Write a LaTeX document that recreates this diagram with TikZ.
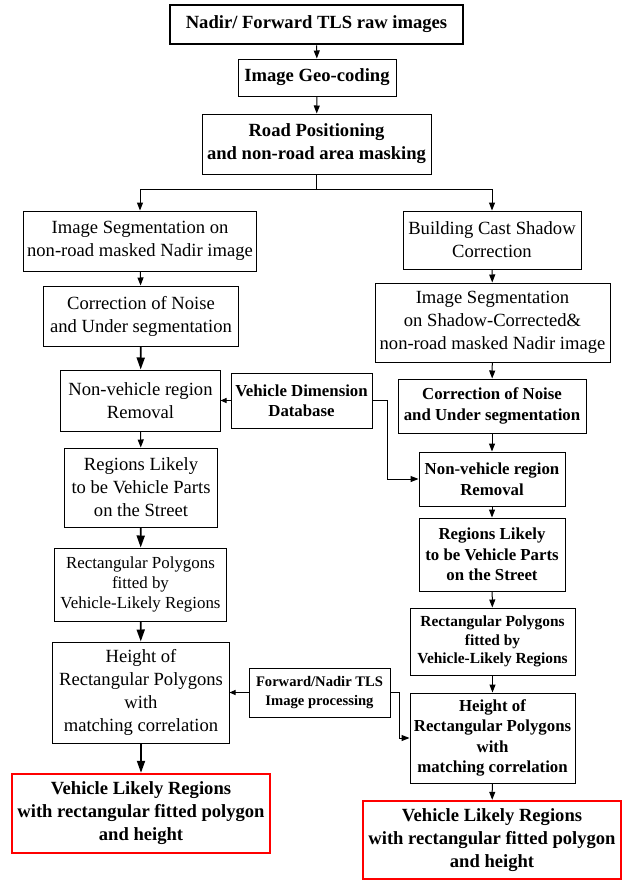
\documentclass[tikz,border=0pt]{standalone}
\usepackage{fontspec}
\setmainfont{Liberation Serif}
\usetikzlibrary{arrows.meta,positioning,calc}

\tikzset{
  box/.style={draw, line width=1bp, inner sep=0pt, align=center},
  topbox/.style={box, line width=2.6bp},
  redbox/.style={box, draw=red, line width=2.4bp},
  regtext/.style={font=\fontsize{18.6bp}{23bp}\selectfont},
  boldtext/.style={font=\fontsize{18.6bp}{23bp}\selectfont\bfseries},
  midbold/.style={font=\fontsize{16.8bp}{20.5bp}\selectfont\bfseries},
  smallbold/.style={font=\fontsize{15.4bp}{18.7bp}\selectfont\bfseries},
  smallreg/.style={font=\fontsize{16.9bp}{20bp}\selectfont},
  tinybold/.style={font=\fontsize{14.6bp}{19bp}\selectfont\bfseries},
  arr/.style={line width=1bp, -{Triangle[length=8bp,width=6bp]}},
  bigarr/.style={line width=1.8bp, -{Triangle[length=12bp,width=8bp]}},
}

\begin{document}
\begin{tikzpicture}[x=1bp, y=-1bp]
  \useasboundingbox (0,0) rectangle (625,880);

  % common trunk
  \node[topbox, boldtext, minimum width=293bp, minimum height=39bp] (raw) at (316.5,24.5) {Nadir/ Forward TLS raw images};
  \node[box, boldtext, minimum width=158bp, minimum height=37bp] (geo) at (317,77.5) {Image Geo-coding};
  \node[box, boldtext, minimum width=229bp, minimum height=60bp] (road) at (316.5,144) {Road Positioning\\and non-road area masking};
  \coordinate (split) at (316.5,189);

  % left branch (no shadow correction)
  \node[box, regtext, minimum width=232bp, minimum height=60bp] (segL) at (140,241) {Image Segmentation on\\non-road masked Nadir image};
  \node[box, regtext, minimum width=194bp, minimum height=60bp] (noiseL) at (141,316) {Correction of Noise\\and Under segmentation};
  \node[box, regtext, minimum width=159bp, minimum height=61bp] (nonvL) at (140.5,400.5) {Non-vehicle region\\Removal};
  \node[box, regtext, minimum width=152bp, minimum height=79bp] (partsL) at (141,487.5) {Regions Likely\\to be Vehicle Parts\\on the Street};
  \node[box, smallreg, minimum width=171bp, minimum height=73bp] (polyL) at (140.5,584.5) {Rectangular Polygons\\fitted by\\Vehicle-Likely Regions};
  \node[box, regtext, minimum width=176bp, minimum height=101bp] (heightL) at (141,692.5) {Height of\\Rectangular Polygons\\with\\matching correlation};
  \node[redbox, boldtext, minimum width=258bp, minimum height=79bp] (resL) at (141,813.5) {Vehicle Likely Regions\\with rectangular fitted polygon\\and height};

  % shared inputs
  \node[box, midbold, minimum width=141bp, minimum height=55bp] (dim) at (301.5,400.5) {Vehicle Dimension\\Database};
  \node[box, tinybold, minimum width=141bp, minimum height=49bp] (tls) at (319.5,692.5) {Forward/Nadir TLS\\Image processing};

  % right branch (with shadow correction)
  \node[box, regtext, minimum width=178bp, minimum height=58bp] (shadR) at (492,240) {Building Cast Shadow\\Correction};
  \node[box, regtext, minimum width=235bp, minimum height=79bp] (segR) at (492.5,322.5) {Image Segmentation\\on Shadow-Corrected\&\\non-road masked Nadir image};
  \node[box, midbold, minimum width=188bp, minimum height=54bp] (noiseR) at (492,406) {Correction of Noise\\and Under segmentation};
  \node[box, midbold, minimum width=146bp, minimum height=54bp] (nonvR) at (492,479) {Non-vehicle region\\Removal};
  \node[box, midbold, minimum width=146bp, minimum height=73bp] (partsR) at (492,554.5) {Regions Likely\\to be Vehicle Parts\\on the Street};
  \node[box, smallbold, minimum width=165bp, minimum height=67bp] (polyR) at (492.5,641.5) {Rectangular Polygons\\fitted by\\Vehicle-Likely Regions};
  \node[box, midbold, minimum width=165bp, minimum height=90bp] (heightR) at (492.5,738) {Height of\\Rectangular Polygons\\with\\matching correlation};
  \node[redbox, boldtext, minimum width=258bp, minimum height=78bp] (resR) at (492,840) {Vehicle Likely Regions\\with rectangular fitted polygon\\and height};

  % connectors
  \draw[arr] (raw) -- (geo);
  \draw[arr] (geo) -- (road);
  \draw[line width=1bp] (road) -- (split);
  \draw[arr] (split) -| (segL);
  \draw[arr] (split) -| (shadR);

  \draw[arr] (segL) -- (noiseL);
  \draw[bigarr] (noiseL) -- (nonvL);
  \draw[arr] (nonvL) -- (partsL);
  \draw[bigarr] (partsL) -- (polyL);
  \draw[bigarr] (polyL) -- (heightL);
  \draw[bigarr] (heightL) -- (resL);

  \draw[arr] (shadR) -- (segR);
  \draw[arr] (segR) -- (noiseR);
  \draw[arr] (noiseR) -- (nonvR);
  \draw[arr] (nonvR) -- (partsR);
  \draw[arr] (partsR) -- (polyR);
  \draw[arr] (polyR) -- (heightR);
  \draw[arr] (heightR) -- (resR);

  \draw[arr, -{Triangle[length=6bp,width=5bp]}] (dim.west) -- (nonvL.east);
  \draw[arr] (dim.east) -- ++(15,0) |- (nonvR.west);
  \draw[arr, -{Triangle[length=6bp,width=5bp]}] (tls.west) -- (heightL.east);
  \draw[arr] (tls.east) -- ++(9,0) |- (heightR.west);
\end{tikzpicture}
\end{document}
